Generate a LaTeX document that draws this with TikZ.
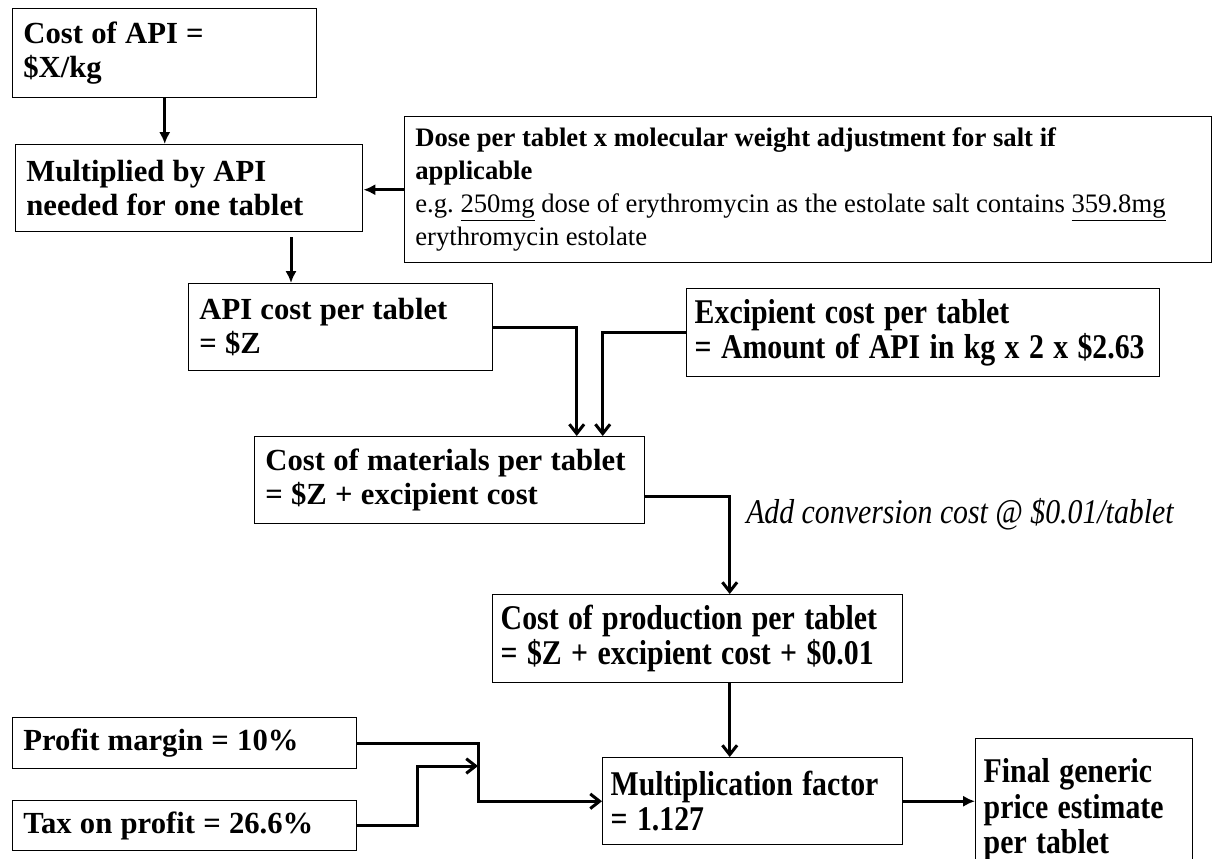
\documentclass[tikz,border=0pt]{standalone}
\usepackage{fontspec}
\setmainfont{Liberation Serif}
\newfontfamily\condfont[FakeStretch=0.86]{Liberation Serif}
\usetikzlibrary{arrows.meta}
\frenchspacing

\tikzset{
  stage/.style={draw, line width=1.1pt, anchor=north west, align=left, inner xsep=8pt, inner ysep=0pt, font=\fontsize{23}{25.5}\selectfont\bfseries, execute at begin node={\spaceskip=0.27em plus 0.05em\relax}},
  condstage/.style={stage, inner xsep=6pt, font=\condfont\fontsize{26}{26.5}\selectfont\bfseries},
  flow/.style={line width=2.25pt, -{Straight Barb[length=7pt,width=11pt]}},
  flowfill/.style={line width=2.25pt, -{Latex[length=9pt,width=8.5pt]}},
}

\begin{document}
\begin{tikzpicture}[x=0.75pt,y=0.75pt,yscale=-1,xscale=1]
    \fill[white] (0,0) rectangle (1214,858);
    \useasboundingbox (0,0) rectangle (1214,858);

    % Box: API price
    \node[stage, text width=212pt, minimum height=66.75pt] (apiprice) at (12,8) {Cost of API =\\\$X/kg};
    % Box: API per tablet
    \node[stage, text width=244.25pt, minimum height=65.25pt] (multiplied) at (15,144) {Multiplied by API\\needed for one tablet};
    % Box: dose
    \node[stage, text width=589.25pt, minimum height=109.5pt, font=\fontsize{20}{24.75}\selectfont\mdseries, execute at begin node={\spaceskip=0pt\relax}] (dose) at (404,116)
        {\textbf{Dose per tablet x molecular weight adjustment for salt if}\\\textbf{applicable}\\e.g. \underline{250mg} dose of erythromycin as the estolate salt contains \underline{359.8mg}\\erythromycin estolate};
    % Box: API cost
    \node[stage, text width=212pt, minimum height=65.25pt] (apitablet) at (188,283) {API cost per tablet\\= \$Z};
    % Box: excipient
    \node[condstage, text width=342.75pt, minimum height=66pt] (excipient) at (686,288) {Excipient cost per tablet\\= Amount of API in kg x 2 x \$2.63};
    % Box: materials
    \node[stage, text width=276.5pt, minimum height=65.25pt] (materials) at (254,436) {Cost of materials per tablet\\= \$Z + excipient cost};
    % Box: production
    \node[condstage, text width=295.5pt, minimum height=66pt] (production) at (492,594) {Cost of production per tablet\\= \$Z + excipient cost + \$0.01};
    % Box: factor
    \node[condstage, text width=213pt, minimum height=65.25pt] (factor) at (602,757) {Multiplication factor\\= 1.127};
    % Box: final price
    \node[condstage, text width=150.75pt, minimum height=106.5pt] (final) at (975,738) {Final generic\\price estimate\\per tablet};
    % Box: profit
    \node[stage, text width=242pt, minimum height=38.25pt] (profit) at (12,717) {Profit margin = 10\%};
    % Box: tax
    \node[stage, text width=242pt, minimum height=37.5pt] (tax) at (12,800) {Tax on profit = 26.6\%};

    % Text Node
    \node[anchor=west, inner sep=0pt, font=\condfont\fontsize{26}{26.5}\selectfont\itshape] (convcost) at (746,514) {Add conversion cost @ \$0.01/tablet};

    % Connectors
    \coordinate (m2a) at (291,237);
    \coordinate (joinx) at (478,0);
    \coordinate (taxbend) at (417,766);
    \draw[flowfill] (apiprice.south) -- (apiprice.south |- multiplied.north);
    \draw[flowfill] (dose.west) -- (dose.west -| multiplied.east);
    \draw[flowfill] (m2a) -- (m2a |- apitablet.north);
    \draw[flow] (apitablet.east) -| ([xshift=95.25pt]materials.north);
    \draw[flow] (excipient.west) -| ([xshift=114.75pt]materials.north);
    \draw[flow] ([yshift=12pt]materials.east) -| ([xshift=24pt]production.north);
    \draw[flow] ([xshift=24pt]production.south) -- ([xshift=24pt]production.south |- factor.north);
    \draw[flow] (profit.east) -| (joinx |- factor.west) -- (factor.west);
    \draw[flow] (tax.east) -| (taxbend) -- (taxbend -| joinx);
    \draw[flowfill] (factor.east) -- (factor.east -| final.west);
\end{tikzpicture}
\end{document}
